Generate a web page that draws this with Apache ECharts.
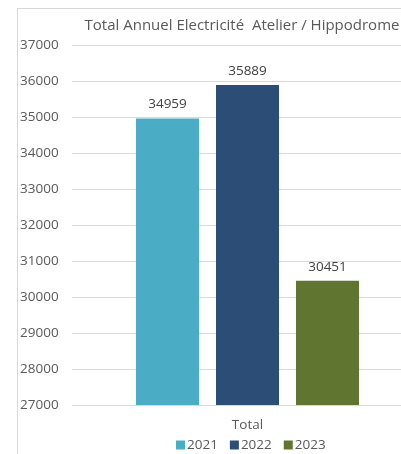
<!DOCTYPE html>
<html>
<head>
<meta charset="utf-8">
<script src="https://cdn.jsdelivr.net/npm/echarts@6/dist/echarts.min.js"></script>
<style>
  html, body { margin: 0; padding: 0; background: #fff; }
  #chart { width: 401px; height: 454px; }
</style>
</head>
<body>
<div id="chart"></div>
<script>
const categories = ['Total'];
const years = ['2021', '2022', '2023'];
const values2021 = [34959];
const values2022 = [35889];
const values2023 = [30451];
const colors = ['#4bacc6', '#2c4d75', '#5f7530'];

const chart = echarts.init(document.getElementById('chart'));
const font = '"Open Sans", sans-serif';
const labelStyle = {
    show: true,
    position: 'top',
    distance: 7,
    color: '#404040',
    fontFamily: font,
    fontSize: 13.5
};
const mk = (name, data, i) => ({
    name: name,
    type: 'bar',
    barWidth: 63,
    barGap: '27%',
    xAxisIndex: 0,
    yAxisIndex: 0,
    itemStyle: { color: colors[i] },
    label: labelStyle,
    data: data
});

chart.setOption({
    animation: false,
    textStyle: { fontFamily: font },
    title: {
        text: 'Total Annuel Electricité  Atelier / Hippodrome',
        left: 237,
        textAlign: 'center',
        top: 13,
        textStyle: { color: '#595959', fontSize: 15, fontWeight: 'normal', fontFamily: font }
    },
    legend: {
        data: years,
        left: 247 - 76,
        top: 433,
        itemWidth: 9,
        itemHeight: 9,
        itemGap: 12,
        icon: 'rect',
        textStyle: { color: '#595959', fontSize: 13.5, fontFamily: font, padding: [0, 0, 0, -3] }
    },
    grid: [
        { left: 94, right: 0, top: 45, bottom: 49 },
        { left: 72, right: 0, top: 45, bottom: 49 }
    ],
    xAxis: [
        {
            type: 'category',
            gridIndex: 0,
            data: categories,
            axisLine: { show: false },
            axisTick: { show: false },
            axisLabel: { color: '#595959', fontSize: 13.5, fontFamily: font, margin: 13 }
        },
        {
            type: 'category',
            gridIndex: 1,
            data: categories,
            show: false
        }
    ],
    yAxis: [
        {
            type: 'value',
            gridIndex: 0,
            min: 27000,
            max: 37000,
            interval: 1000,
            axisLine: { show: false },
            axisTick: { show: false },
            splitLine: { show: false },
            axisLabel: { show: false }
        },
        {
            type: 'value',
            gridIndex: 1,
            min: 27000,
            max: 37000,
            interval: 1000,
            axisLine: { show: false },
            axisTick: { show: false },
            splitLine: { lineStyle: { color: '#d9d9d9', width: 1 } },
            axisLabel: {
                color: '#595959', fontSize: 13.5, fontFamily: font, align: 'left', margin: 52,
                formatter: v => String(v)
            }
        }
    ],
    graphic: [
        { type: 'line', shape: { x1: 17.5, y1: 8, x2: 17.5, y2: 454 }, style: { stroke: '#d9d9d9', lineWidth: 1 } },
        { type: 'line', shape: { x1: 17, y1: 8.5, x2: 401, y2: 8.5 }, style: { stroke: '#d9d9d9', lineWidth: 1 } }
    ],
    series: [
        mk(years[0], values2021, 0),
        mk(years[1], values2022, 1),
        mk(years[2], values2023, 2)
    ]
});
</script>
</body>
</html>
